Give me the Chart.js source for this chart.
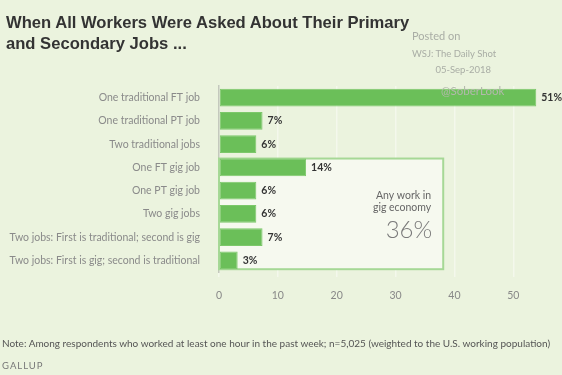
<!DOCTYPE html>
<html>
<head>
<meta charset="utf-8">
<script src="https://cdn.jsdelivr.net/npm/chart.js@4/dist/chart.umd.min.js"></script>
<style>
  html, body { margin: 0; padding: 0; }
  body { width: 562px; height: 375px; background: #ebf3de; position: relative; overflow: hidden; font-family: Lato, "Liberation Sans", sans-serif; }
  #wrap { position: absolute; left: 0; top: 0; width: 562px; height: 375px; }
  .t { position: absolute; white-space: nowrap; }
  #title { left: 6px; top: 12px; font: bold 16.6px/21px "Liberation Sans", Arial, sans-serif; color: #333; }
  #posted { left: 412px; top: 29px; font-size: 11px; color: #a9ada5; }
  #wsj { left: 412px; top: 48px; font-size: 9.5px; color: #a9ada5; }
  #date { right: 71px; top: 64px; font-size: 9.5px; color: #a9ada5; }
  #note { left: 2px; top: 337px; font-size: 10px; color: #555; }
  #gallup { left: 2px; top: 360px; font-size: 9.5px; color: #777; letter-spacing: 1px; }
</style>
</head>
<body>
<div id="wrap"><canvas id="chart" width="562" height="375"></canvas></div>
<div class="t" id="title">When All Workers Were Asked About Their Primary<br>and Secondary Jobs ...</div>
<div class="t" id="posted">Posted on</div>
<div class="t" id="wsj">WSJ: The Daily Shot</div>
<div class="t" id="date">05-Sep-2018</div>
<div class="t" id="note">Note: Among respondents who worked at least one hour in the past week; n=5,025 (weighted to the U.S. working population)</div>
<div class="t" id="gallup">GALLUP</div>
<script>
var categories = [
  'One traditional FT job',
  'One traditional PT job',
  'Two traditional jobs',
  'One FT gig job',
  'One PT gig job',
  'Two gig jobs',
  'Two jobs: First is traditional; second is gig',
  'Two jobs: First is gig; second is traditional'
];
var shares = [51, 7, 6, 14, 6, 6, 7, 3];
var tickLabels = [0, 10, 20, 30, 40, 50];
// the printed axis runs a little short of the bars: 1 axis unit = 0.946 pct
var axisUnit = 0.946;
var gigRows = [3, 7];
var gigTotal = '36%';

var gigBox = {
  id: 'gigBox',
  beforeDatasetsDraw: function (chart) {
    var c = chart.ctx, meta = chart.getDatasetMeta(0);
    var x = chart.scales.x;
    var top = meta.data[gigRows[0]], bot = meta.data[gigRows[1]];
    var x0 = x.getPixelForValue(0), x1 = x.getPixelForValue(38.1 * axisUnit);
    var y0 = top.y - top.height / 2, y1 = bot.y + bot.height / 2;
    c.save();
    c.fillStyle = '#f6f9ef';
    c.fillRect(x0, y0, x1 - x0, y1 - y0);
    c.strokeStyle = '#a6d896';
    c.lineWidth = 2;
    c.strokeRect(x0, y0, x1 - x0, y1 - y0);
    c.textAlign = 'right';
    c.textBaseline = 'middle';
    c.fillStyle = '#666';
    c.font = '10.5px Lato, sans-serif';
    c.fillText('Any work in', x1 - 12, 196);
    c.fillText('gig economy', x1 - 12, 208);
    c.fillStyle = '#7a7a7a';
    c.font = '300 24px Lato, sans-serif';
    c.fillText(gigTotal, x1 - 11, 230);
    c.restore();
  },
  afterDatasetsDraw: function (chart) {
    var c = chart.ctx, meta = chart.getDatasetMeta(0);
    c.save();
    c.font = 'bold 10.5px Lato, sans-serif';
    c.fillStyle = '#333';
    c.textBaseline = 'middle';
    meta.data.forEach(function (b, i) {
      c.fillText(shares[i] + '%', b.x + 5, b.y);
    });
    c.fillStyle = '#b3b8ac';
    c.font = '11.5px Lato, sans-serif';
    c.fillText('@SoberLook', 441, 91);
    c.restore();
  }
};

new Chart(document.getElementById('chart').getContext('2d'), {
  type: 'bar',
  data: {
    labels: categories,
    datasets: [{
      data: shares,
      backgroundColor: '#6bbf59',
      borderColor: '#7cc86a',
      borderWidth: 1,
      borderSkipped: false,
      categoryPercentage: 1,
      barPercentage: 0.76
    }]
  },
  options: {
    indexAxis: 'y',
    responsive: false,
    animation: false,
    layout: { padding: { left: 0, right: 22, top: 86, bottom: 0 } },
    plugins: { legend: { display: false }, tooltip: { enabled: false } },
    scales: {
      x: {
        min: 0,
        max: 51.6,
        afterFit: function (s) { s.height = 103; },
        afterBuildTicks: function (s) {
          s.ticks = tickLabels.map(function (t) { return { value: t * axisUnit, label: String(t) }; });
        },
        grid: { color: '#f4f8ec', lineWidth: 1.5, tickLength: 5, drawOnChartArea: true },
        border: { display: false },
        ticks: {
          padding: 12,
          color: '#888',
          font: { family: 'Lato', size: 10.5 },
          callback: function (v, i) { return String(tickLabels[i]); }
        }
      },
      y: {
        afterFit: function (s) { s.width = 219; },
        grid: { display: false },
        border: { display: true, color: '#c4c8bd', width: 1.5 },
        ticks: { padding: 11, color: '#8a8a8a', font: { family: 'Lato', size: 10.5 } }
      }
    }
  },
  plugins: [gigBox]
});
</script>
</body>
</html>
